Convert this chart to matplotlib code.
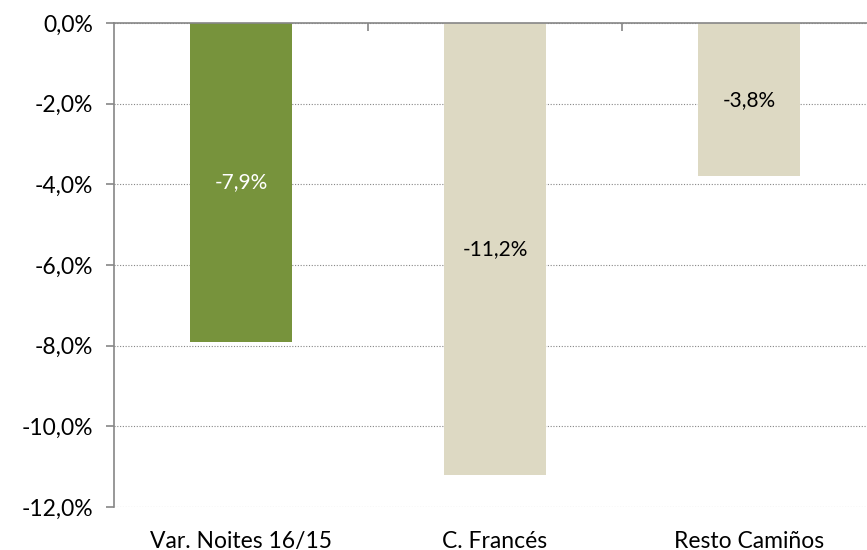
import matplotlib.pyplot as plt
from matplotlib.ticker import FuncFormatter

categories = ["Var. Noites 16/15", "C. Francés", "Resto Camiños"]
values = [-7.9, -11.2, -3.8]
bar_colors = ["#77933C", "#DDD9C3", "#DDD9C3"]
label_colors = ["white", "black", "black"]
yticks = [0, -2, -4, -6, -8, -10, -12]

plt.rcParams['font.family'] = ['Lato', 'DejaVu Sans']

fig = plt.figure(figsize=(8.67, 5.5), dpi=100)
W, H = 867, 550
ax = fig.add_axes([114 / W, 1 - 507 / H, 762 / W, 484 / H])

x = range(len(categories))
ax.bar(x, values, width=0.4, color=bar_colors, zorder=3)

for i, v in enumerate(values):
    ax.text(i, v / 2, f"{v:.1f}%".replace(".", ","), ha="center", va="center",
            fontsize=15, color=label_colors[i], zorder=4)

ax.set_xlim(-0.5, 2.5)
ax.set_ylim(-12, 0)
ax.set_yticks(yticks)
ax.yaxis.set_major_formatter(FuncFormatter(lambda v, p: f"{v:.1f}%".replace(".", ",")))
ax.grid(axis="y", linestyle=(0, (1, 1.5)), color="#868686", linewidth=0.8, zorder=0)

ax.set_xticks(list(x))
ax.set_xticklabels(categories)
ax.set_xticks([0.5, 1.5], minor=True)
ax.tick_params(axis="x", which="major", length=0, pad=17, labelsize=16.5)
ax.tick_params(axis="x", which="minor", top=True, bottom=False, direction="in",
               length=6, width=1.2, color="#868686")
ax.tick_params(axis="y", length=6, width=1.2, color="#868686", labelsize=16.5, pad=9)

for s in ["right", "bottom"]:
    ax.spines[s].set_visible(False)
for s in ["top", "left"]:
    ax.spines[s].set_color("#868686")
    ax.spines[s].set_linewidth(1.2)
ax.spines["top"].set_zorder(5)

fig.savefig("out.png", dpi=100)
